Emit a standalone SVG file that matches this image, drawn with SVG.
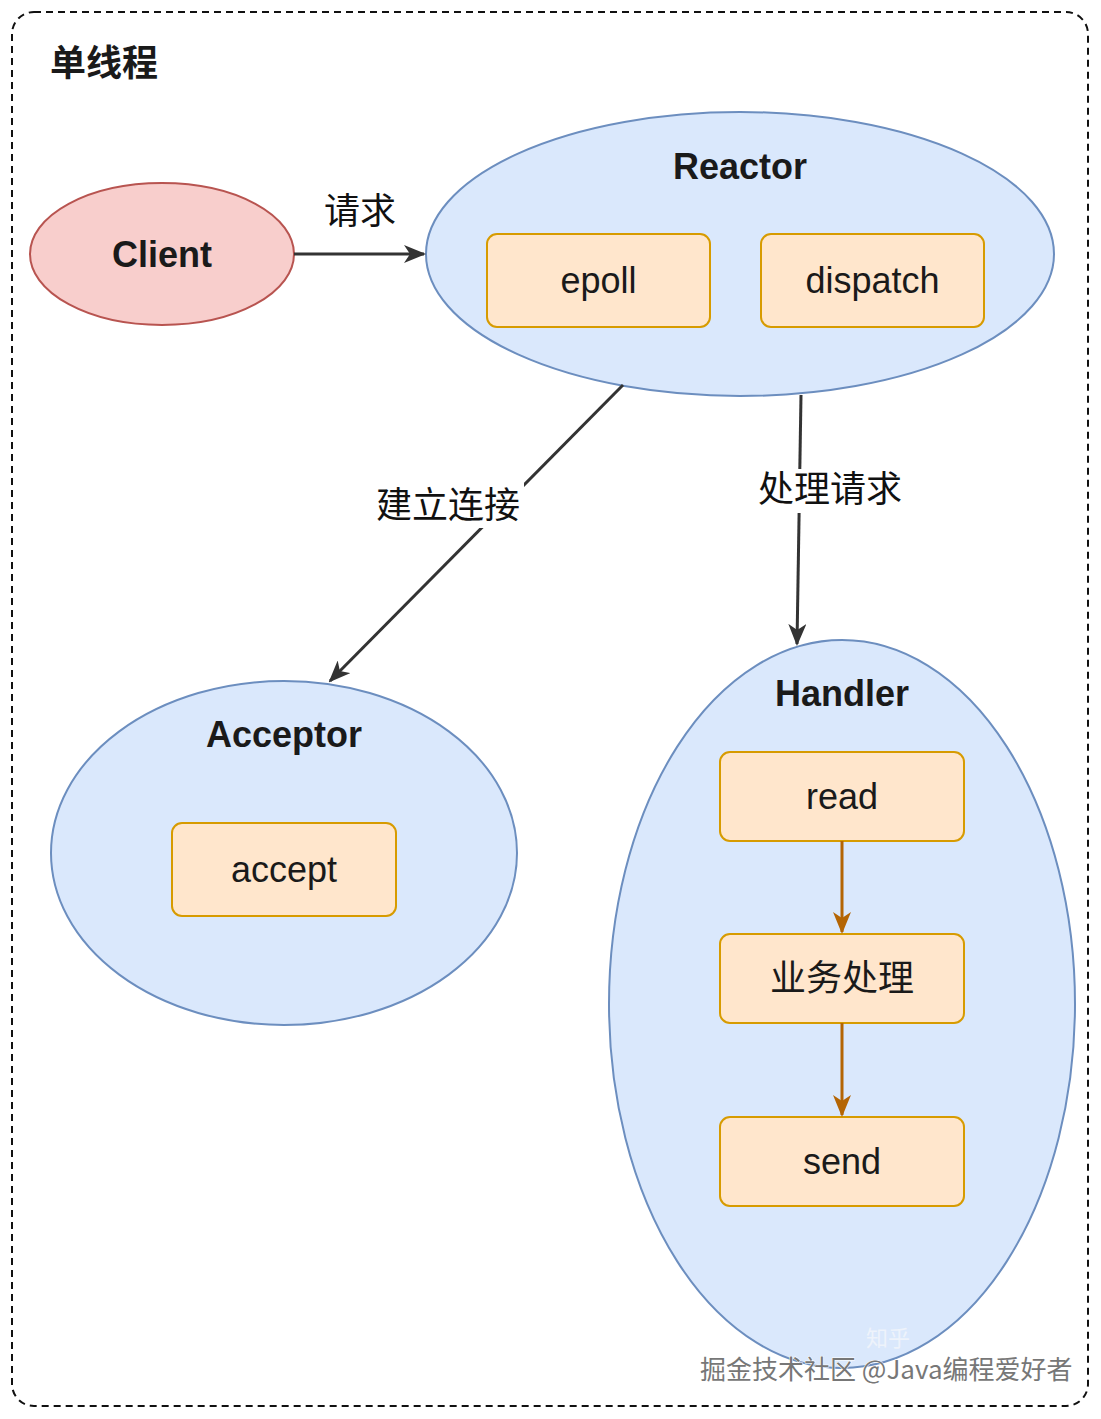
<svg xmlns="http://www.w3.org/2000/svg" width="1101" height="1419" viewBox="0 0 1101 1419">
<style>
.frame{fill:none;stroke:#111;stroke-width:2;stroke-dasharray:7 5}
.blue{fill:#dae8fc;stroke:#6c8ebf;stroke-width:2}
.red{fill:#f8cecc;stroke:#b85450;stroke-width:2}
.box{fill:#ffe6cc;stroke:#d79b00;stroke-width:2}
.t{font-family:"Liberation Sans","Noto Sans CJK SC",sans-serif;fill:#1a1a1a;text-anchor:middle;dominant-baseline:central}
.b{font-weight:bold}
.n{font-size:36px}
.lbl{font-family:"Liberation Sans","Noto Sans CJK SC",sans-serif;font-size:36px;fill:#111;text-anchor:middle;dominant-baseline:central}
.edge{fill:none;stroke:#333;stroke-width:3}
.bedge{fill:none;stroke:#b46504;stroke-width:3}
.wm{font-family:"Noto Sans CJK SC",sans-serif;font-size:26px;fill:#777;stroke:#fff;stroke-width:1;paint-order:stroke}
</style>
<defs>
<marker id="ah" viewBox="0 0 22 18" refX="20" refY="9" markerWidth="22" markerHeight="18" markerUnits="userSpaceOnUse" orient="auto">
<path d="M0,0 L22,9 L0,18 L6,9 Z" fill="#333"/>
</marker>
<marker id="bh" viewBox="0 0 22 18" refX="20" refY="9" markerWidth="22" markerHeight="18" markerUnits="userSpaceOnUse" orient="auto">
<path d="M0,0 L22,9 L0,18 L6,9 Z" fill="#b46504"/>
</marker>
</defs>
<rect width="1101" height="1419" fill="#fff"/>
<rect class="frame" x="12" y="12" width="1076" height="1394" rx="22"/>
<text class="t b" x="104" y="63" font-size="36">单线程</text>

<g id="client">
<ellipse class="red" cx="162" cy="254" rx="132" ry="71"/>
<text class="t b n" x="162" y="254">Client</text>
</g>
<g id="reactor">
<ellipse class="blue" cx="740" cy="254" rx="314" ry="142"/>
<text class="t b n" x="740" y="166">Reactor</text>
</g>
<g id="epoll">
<rect class="box" x="487" y="234" width="223" height="93" rx="10"/>
<text class="t n" x="598.5" y="280.5">epoll</text>
</g>
<g id="dispatch">
<rect class="box" x="761" y="234" width="223" height="93" rx="10"/>
<text class="t n" x="872.5" y="280.5">dispatch</text>
</g>
<g id="acceptor">
<ellipse class="blue" cx="284" cy="853" rx="233" ry="172"/>
<text class="t b n" x="284" y="734">Acceptor</text>
</g>
<g id="accept">
<rect class="box" x="172" y="823" width="224" height="93" rx="10"/>
<text class="t n" x="284" y="869.5">accept</text>
</g>
<g id="handler">
<ellipse class="blue" cx="842" cy="1004" rx="233" ry="364"/>
<text class="t b n" x="842" y="693">Handler</text>
</g>
<g id="read">
<rect class="box" x="720" y="752" width="244" height="89" rx="10"/>
<text class="t n" x="842" y="796.5">read</text>
</g>
<g id="biz">
<rect class="box" x="720" y="934" width="244" height="89" rx="10"/>
<text class="t n" x="842" y="978.5">业务处理</text>
</g>
<g id="send">
<rect class="box" x="720" y="1117" width="244" height="89" rx="10"/>
<text class="t n" x="842" y="1161.5">send</text>
</g>

<g id="connectors">
<line class="edge" x1="294" y1="254" x2="424" y2="254" marker-end="url(#ah)"/>
<text class="lbl" x="360" y="211">请求</text>
<line class="edge" x1="623" y1="385" x2="330" y2="681" marker-end="url(#ah)"/>
<rect x="372" y="482" width="152" height="46" fill="#fff"/>
<text class="lbl" x="448" y="505">建立连接</text>
<line class="edge" x1="801" y1="395" x2="797" y2="644" marker-end="url(#ah)"/>
<rect x="756" y="469" width="148" height="44" fill="#fff"/>
<text class="lbl" x="830" y="489">处理请求</text>
<line class="bedge" x1="842" y1="841" x2="842" y2="932" marker-end="url(#bh)"/>
<line class="bedge" x1="842" y1="1023" x2="842" y2="1115" marker-end="url(#bh)"/>
</g>

<text x="866" y="1346" font-family="Noto Sans CJK SC,sans-serif" font-size="22" fill="#eef3fb">知乎</text>
<text class="wm" x="700" y="1379">掘金技术社区 @Java编程爱好者</text>
</svg>
